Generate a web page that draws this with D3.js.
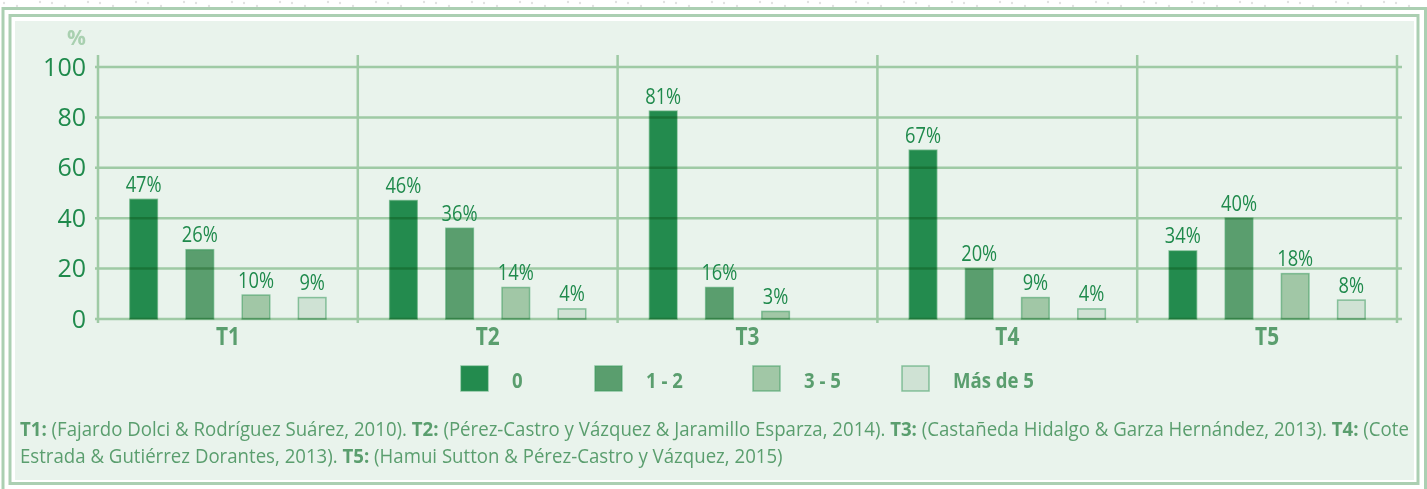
<!DOCTYPE html>
<html>
<head>
<meta charset="utf-8">
<script src="https://cdn.jsdelivr.net/npm/d3@7"></script>
<style>
  html, body { margin: 0; padding: 0; background: #fff; }
  svg { display: block; }
  text { white-space: pre; }
</style>
</head>
<body>
<div id="chart"></div>
<script>
const groups = ["T1", "T2", "T3", "T4", "T5"];
const seriesNames = ["0", "1 - 2", "3 - 5", "Más de 5"];

// bar heights as drawn (the printed labels don't always agree with them)
const bars0   = [47.5, 47, 82.5, 67, 27];
const bars12  = [27.5, 36, 12.5, 20, 40];
const bars35  = [9.5, 12.5, 3, 8.5, 18];
const barsMas = [8.5, 4, null, 4, 7.5];

const labels0   = ["47%", "46%", "81%", "67%", "34%"];
const labels12  = ["26%", "36%", "16%", "20%", "40%"];
const labels35  = ["10%", "14%", "3%", "9%", "18%"];
const labelsMas = ["9%", "4%", null, "4%", "8%"];

const yTicks = [0, 20, 40, 60, 80, 100];
const colors = ["#238b4e", "#5a9e6e", "#a1c7a6", "#cfe2d4"];

const footLine1 = [
  ["T1:", true], [" (Fajardo Dolci & Rodríguez Suárez, 2010). ", false],
  ["T2:", true], [" (Pérez-Castro y Vázquez & Jaramillo Esparza, 2014). ", false],
  ["T3:", true], [" (Castañeda Hidalgo & Garza Hernández, 2013). ", false],
  ["T4:", true], [" (Cote", false]
];
const footLine2 = [
  ["Estrada & Gutiérrez Dorantes, 2013). ", false],
  ["T5:", true], [" (Hamui Sutton & Pérez-Castro y Vázquez, 2015)", false]
];

const seriesValues = [bars0, bars12, bars35, barsMas];
const seriesLabels = [labels0, labels12, labels35, labelsMas];

const W = 1427, H = 489;
const frameColor = "#abcfb2";
const font = "'Open Sans', 'Noto Sans', sans-serif";
const darkText = "#1f8a4c";
const midText = "#5a9e6e";
const legendX = [461, 595, 753, 902];

const svg = d3.select("#chart").append("svg")
  .attr("width", W)
  .attr("height", H);

// width of a string in a given style, used to squeeze text into the
// narrow condensed look of the original
function measure(str, size, weight) {
  const t = svg.append("text")
    .attr("font-family", font).attr("font-size", size).attr("font-weight", weight)
    .text(str);
  const w = t.node().getComputedTextLength();
  t.remove();
  return w;
}

// faint dotted page background
const defs = svg.append("defs");
const pat = defs.append("pattern")
  .attr("id", "dots")
  .attr("width", 48).attr("height", 16)
  .attr("patternUnits", "userSpaceOnUse");
[[4, 3], [28, 11], [17, 6], [40, 2]].forEach(([cx, cy]) => {
  pat.append("circle").attr("cx", cx).attr("cy", cy).attr("r", 1.2).attr("fill", "#e2e2e2");
});
svg.append("rect").attr("width", W).attr("height", H).attr("fill", "url(#dots)");

// double frame + panel
svg.append("rect")
  .attr("x", 3).attr("y", 8.5).attr("width", 1422.5).attr("height", 500)
  .attr("fill", "#fff").attr("stroke", frameColor).attr("stroke-width", 3);
svg.append("rect")
  .attr("x", 10).attr("y", 15.5).attr("width", 1408).attr("height", 468)
  .attr("fill", "#fff").attr("stroke", frameColor).attr("stroke-width", 3);
svg.append("rect")
  .attr("x", 15).attr("y", 21).attr("width", 1399).attr("height", 459)
  .attr("fill", "#e9f3ec");

// scales
const x0 = d3.scaleBand().domain(groups).range([98, 1397]);
const x1 = d3.scaleBand().domain(seriesNames)
  .range([0, x0.bandwidth()])
  .paddingInner(0.51)
  .paddingOuter(0.567);
const y = d3.scaleLinear().domain([0, 100]).range([319, 67]);

// bars
const barData = [];
groups.forEach((g, i) => {
  seriesNames.forEach((s, j) => {
    const v = seriesValues[j][i];
    if (v == null) return;
    barData.push({ group: g, series: s, idx: j, value: v, label: seriesLabels[j][i] });
  });
});

svg.append("g")
  .selectAll("rect")
  .data(barData)
  .join("rect")
  .attr("x", (d) => x0(d.group) + x1(d.series))
  .attr("y", (d) => y(d.value))
  .attr("width", x1.bandwidth())
  .attr("height", (d) => y(0) - y(d.value))
  .attr("fill", (d) => colors[d.idx])
  .attr("stroke", "#3c9a5f")
  .attr("stroke-opacity", 0.55)
  .attr("stroke-width", 1.5);

// gridlines on top, multiplied so they darken the bars like the original
const grid = svg.append("g").style("mix-blend-mode", "multiply");
grid.selectAll(".hline")
  .data(yTicks)
  .join("line")
  .attr("class", "hline")
  .attr("x1", x0.range()[0] - 3).attr("x2", x0.range()[1] + 5)
  .attr("y1", (d) => y(d)).attr("y2", (d) => y(d))
  .attr("stroke", "#aed4b2").attr("stroke-width", 2.5);

const boundaries = groups.map((g) => x0(g)).concat([x0.range()[1]]);
grid.selectAll(".vline")
  .data(boundaries)
  .join("line")
  .attr("class", "vline")
  .attr("x1", (d) => d).attr("x2", (d) => d)
  .attr("y1", y(100) - 12).attr("y2", y(0) + 4)
  .attr("stroke", "#aed4b2").attr("stroke-width", 2.5);

// y axis labels
svg.append("g")
  .attr("transform", `translate(${x0.range()[0]},0)`)
  .call(d3.axisLeft(y).tickValues(yTicks).tickSize(0).tickPadding(12))
  .call((g) => g.select(".domain").remove())
  .selectAll("text")
  .attr("fill", darkText)
  .attr("font-family", font)
  .attr("font-size", "25px");

svg.append("text")
  .attr("x", 86).attr("y", 45)
  .attr("text-anchor", "end")
  .attr("font-family", font)
  .attr("font-weight", 700)
  .attr("font-size", "21px")
  .attr("fill", "#a9d0b0")
  .text("%");

// value labels
const kVal = 36 / measure("47%", 22, 400);
svg.append("g")
  .selectAll("text")
  .data(barData.filter((d) => d.label))
  .join("text")
  .attr("transform", (d) =>
    `translate(${x0(d.group) + x1(d.series) + x1.bandwidth() / 2},${y(d.value) - 7.5}) scale(${kVal},1)`)
  .attr("text-anchor", "middle")
  .attr("font-family", font)
  .attr("font-size", "22px")
  .attr("fill", darkText)
  .text((d) => d.label);

// category labels
const kCat = 24 / measure("T1", 25, 700);
svg.append("g")
  .selectAll("text")
  .data(groups)
  .join("text")
  .attr("transform", (d) => `translate(${x0(d) + x0.bandwidth() / 2},345) scale(${kCat},1)`)
  .attr("text-anchor", "middle")
  .attr("font-family", font)
  .attr("font-weight", 700)
  .attr("font-size", "25px")
  .attr("fill", midText)
  .text((d) => d);

// legend
const kLeg = 81 / measure("Más de 5", 21, 700);
const legend = svg.append("g");
seriesNames.forEach((s, j) => {
  const lx = legendX[j];
  legend.append("rect")
    .attr("x", lx).attr("y", 366)
    .attr("width", 27).attr("height", 25)
    .attr("fill", colors[j])
    .attr("stroke", "#3c9a5f").attr("stroke-opacity", 0.55).attr("stroke-width", 1.5);
  legend.append("text")
    .attr("transform", `translate(${lx + 51},388) scale(${kLeg},1)`)
    .attr("font-family", font)
    .attr("font-weight", 700)
    .attr("font-size", "21px")
    .attr("fill", midText)
    .text(s);
});

// footnote
function footText(parts, yPos) {
  const t = svg.append("text")
    .attr("font-family", font)
    .attr("font-size", "19.5px")
    .attr("fill", midText);
  parts.forEach(([str, bold]) => {
    t.append("tspan").attr("font-weight", bold ? 700 : 400).text(str);
  });
  return t.attr("data-y", yPos);
}
const f1 = footText(footLine1, 436);
const f2 = footText(footLine2, 463);
const kFoot = 1390 / f1.node().getComputedTextLength();
[f1, f2].forEach((t) => {
  t.attr("transform", `translate(20,${t.attr("data-y")}) scale(${kFoot},1)`);
});
</script>
</body>
</html>
